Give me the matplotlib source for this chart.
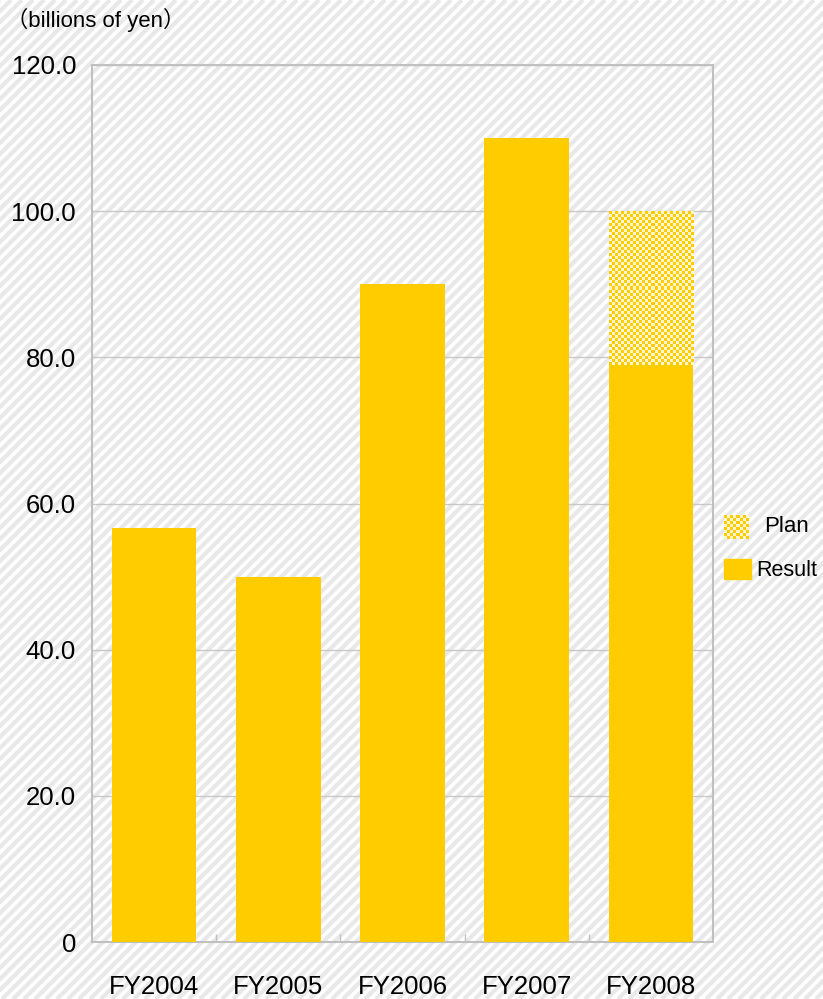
import numpy as np
import matplotlib
matplotlib.use("Agg")
import matplotlib.pyplot as plt
from matplotlib.patches import Rectangle
from matplotlib.colors import ListedColormap

categories = ["FY2004", "FY2005", "FY2006", "FY2007", "FY2008"]
result = [56.6, 50.0, 90.0, 110.0, 79.0]
plan = [None, None, None, None, 100.0]
yticks = [0, 20, 40, 60, 80, 100, 120]
ytick_labels = ["0", "20.0", "40.0", "60.0", "80.0", "100.0", "120.0"]

W, H = 823, 999
fig = plt.figure(figsize=(W / 100, H / 100), dpi=100)
fig.patch.set_facecolor("white")

FONT = ["Liberation Sans", "Noto Sans CJK JP", "DejaVu Sans"]
plt.rcParams["font.family"] = FONT

# background stripes
bg = fig.add_axes([0, 0, 1, 1], zorder=0)
bg.set_xlim(0, W)
bg.set_ylim(0, H)
bg.axis("off")
period = 11
for c in np.arange(-H, W + period, period):
    bg.plot([c, c + H], [0, H], color="#e8e8e8", lw=3.0, solid_capstyle="butt")

YELLOW = "#FFCC00"
LIGHT = "#FFF6D0"
cmap = ListedColormap([YELLOW, LIGHT])

ax = fig.add_axes([92 / W, 1 - 942 / H, (713 - 92) / W, (942 - 65) / H], zorder=1)
ax.patch.set_alpha(0)
x = np.arange(len(categories))
bw = 0.68
bars = ax.bar(x, result, width=bw, color=YELLOW, zorder=3)

ax.set_xlim(-0.5, len(categories) - 0.5)
ax.set_ylim(0, 120)


def checker(ax, x0, x1, y0, y1, cell_px, zorder):
    trans = ax.transData
    p0 = trans.transform((x0, y0))
    p1 = trans.transform((x1, y1))
    nx = max(1, int(round(abs(p1[0] - p0[0]) / cell_px)))
    ny = max(1, int(round(abs(p1[1] - p0[1]) / cell_px)))
    arr = (np.add.outer(np.arange(ny), np.arange(nx)) % 2).astype(float)
    ax.imshow(arr, extent=(x0, x1, y0, y1), cmap=cmap, vmin=0, vmax=1,
              interpolation="nearest", aspect="auto", zorder=zorder, origin="lower")


for i, (r, p) in enumerate(zip(result, plan)):
    if p is not None:
        checker(ax, i - bw / 2, i + bw / 2, r, p, 3, 3)

ax.set_xlim(-0.5, len(categories) - 0.5)
ax.set_ylim(0, 120)

ax.set_yticks(yticks)
ax.set_yticklabels(ytick_labels, fontsize=18.5)
ax.tick_params(axis="y", length=0, pad=11.5)
ax.set_xticks(x)
ax.set_xticklabels(categories, fontsize=18.5)
ax.tick_params(axis="x", which="major", length=0, pad=24)
ax.set_xticks(np.arange(0.5, len(categories) - 0.5, 1), minor=True)
ax.tick_params(axis="x", which="minor", direction="in", length=6, color="#c0c0c0", width=1)
ax.yaxis.grid(True, color="#c8c8c8", lw=1, zorder=1)
ax.set_axisbelow(True)
for s in ax.spines.values():
    s.set_color("#c0c0c0")
    s.set_linewidth(1.5)

fig.text(6 / W, 1 - 20 / H, "（billions of yen）", fontsize=16, va="center", ha="left")

# legend
lg = fig.add_axes([0, 0, 1, 1], zorder=2)
lg.axis("off")
lg.patch.set_alpha(0)
arr = (np.add.outer(np.arange(8), np.arange(8)) % 2).astype(float)
lg.imshow(arr, extent=(724, 749, 539, 515), cmap=cmap,
          interpolation="nearest", aspect="auto")
lg.add_patch(Rectangle((724, 559), 27, 20, color=YELLOW))
lg.set_xlim(0, W)
lg.set_ylim(H, 0)
lg.text(764, 527, "Plan", fontsize=16, va="center", ha="left")
lg.text(756, 570, "Result", fontsize=15.5, va="center", ha="left")

fig.savefig("out.png", dpi=100)
